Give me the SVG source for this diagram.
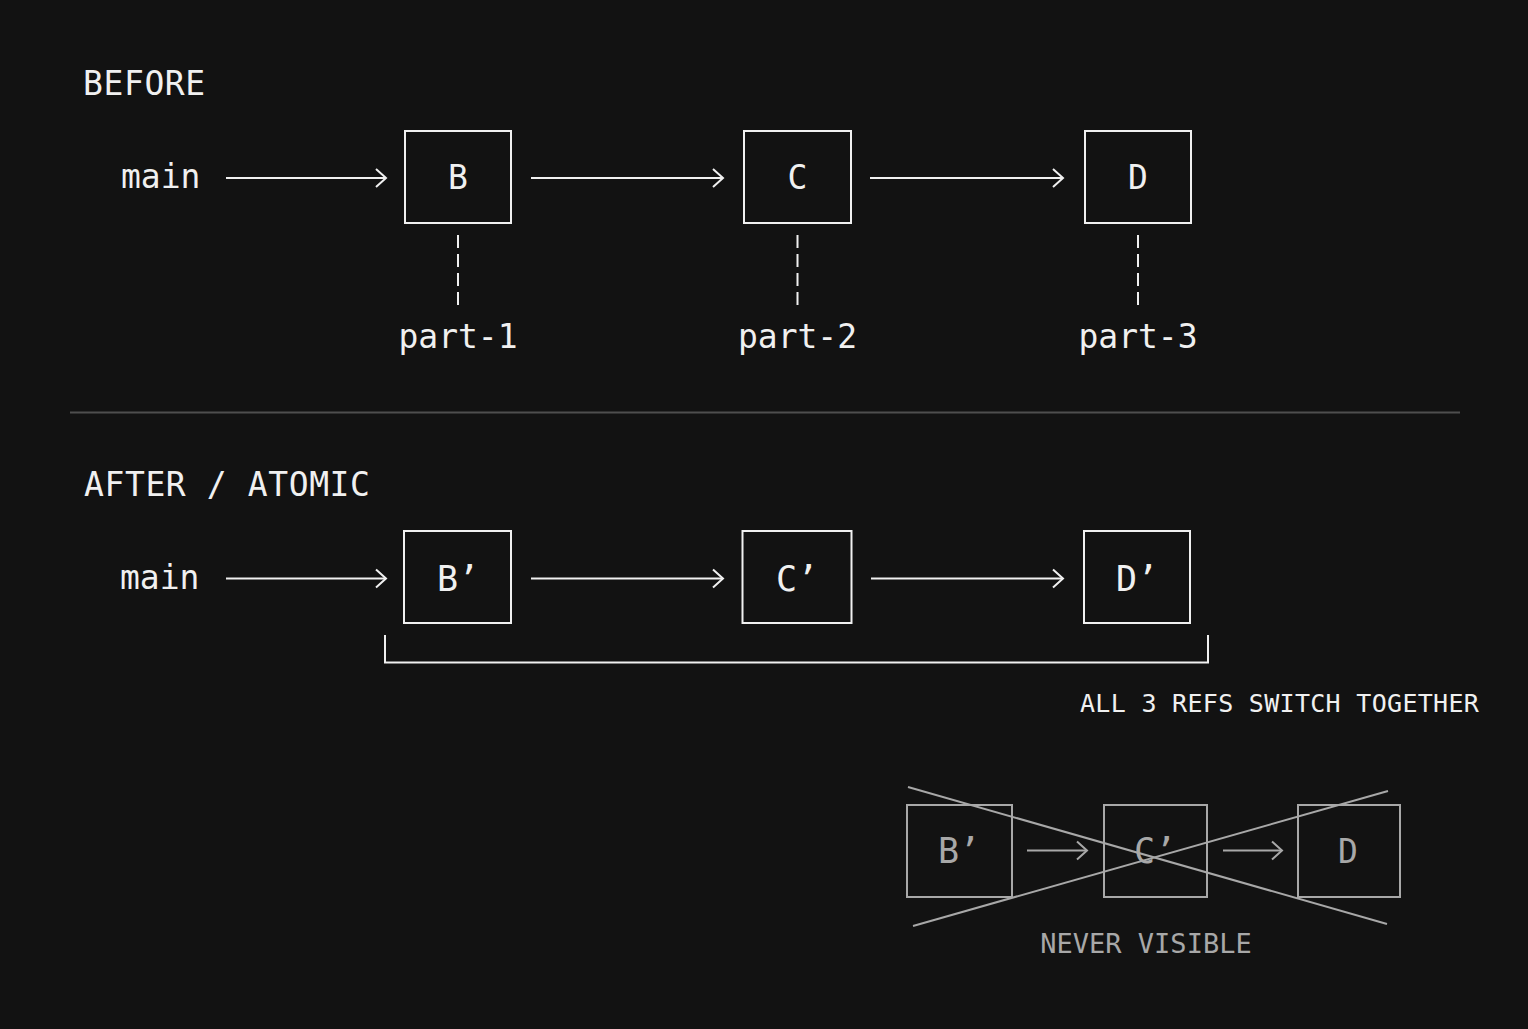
<svg xmlns="http://www.w3.org/2000/svg" width="1528" height="1029" viewBox="0 0 1528 1029">
<style>
text{font-family:"DejaVu Sans Mono","Liberation Mono",monospace;fill:#f0f0f0}
.h{font-size:33px;letter-spacing:0.6px}
.lbl{font-size:33px}
.n{font-size:33px;text-anchor:middle}
.np{font-size:35px;text-anchor:middle}
.box{fill:none;stroke:#f0f0f0;stroke-width:2}
.gbox{fill:none;stroke:#a8a8a8;stroke-width:2}
.gt{fill:#a8a8a8}
.arr{fill:none;stroke:#f0f0f0;stroke-width:2;marker-end:url(#ah)}
.garr{fill:none;stroke:#a8a8a8;stroke-width:2;marker-end:url(#gah)}
.dash{fill:none;stroke:#f0f0f0;stroke-width:2;stroke-dasharray:13 6}
</style>
<defs>
<marker id="ah" markerUnits="userSpaceOnUse" markerWidth="24" markerHeight="24" refX="12" refY="12" orient="auto" viewBox="0 0 24 24">
<path d="M2 3 L12 12 L2 21" fill="none" stroke="#f0f0f0" stroke-width="2"/>
</marker>
<marker id="gah" markerUnits="userSpaceOnUse" markerWidth="24" markerHeight="24" refX="12" refY="12" orient="auto" viewBox="0 0 24 24">
<path d="M2 3 L12 12 L2 21" fill="none" stroke="#a8a8a8" stroke-width="2"/>
</marker>
</defs>
<rect width="1528" height="1029" fill="#121212"/>

<g id="before-title"><text class="h" x="83" y="95">BEFORE</text></g>
<g id="main1"><text class="lbl" x="121" y="188">main</text></g>
<g id="nodeB"><rect class="box" x="405" y="131" width="106" height="92"/><text class="n" x="458" y="189">B</text></g>
<g id="nodeC"><rect class="box" x="744" y="131" width="107" height="92"/><text class="n" x="797.5" y="189">C</text></g>
<g id="nodeD"><rect class="box" x="1085" y="131" width="106" height="92"/><text class="n" x="1138" y="189">D</text></g>
<g id="part1"><text class="n" x="458" y="348">part-1</text></g>
<g id="part2"><text class="n" x="797.5" y="348">part-2</text></g>
<g id="part3"><text class="n" x="1138" y="348">part-3</text></g>

<g id="separator"><line x1="70" y1="412.5" x2="1460" y2="412.5" stroke="#4e4e4e" stroke-width="2"/></g>

<g id="after-title"><text class="h" x="84" y="496">AFTER / ATOMIC</text></g>
<g id="main2"><text class="lbl" x="120" y="589">main</text></g>
<g id="nodeB2"><rect class="box" x="404" y="531" width="107" height="92"/><text class="np" x="458" y="591">B’</text></g>
<g id="nodeC2"><rect class="box" x="742.5" y="531" width="109" height="92"/><text class="np" x="797" y="591">C’</text></g>
<g id="nodeD2"><rect class="box" x="1084" y="531" width="106" height="92"/><text class="np" x="1137" y="591">D’</text></g>
<g id="together-label"><text x="1080" y="712" style="font-size:25px;letter-spacing:0.3px">ALL 3 REFS SWITCH TOGETHER</text></g>

<g id="invalidB"><rect class="gbox" x="907" y="805" width="105" height="92"/><text class="np gt" x="959" y="863">B’</text></g>
<g id="invalidC"><rect class="gbox" x="1104" y="805" width="103" height="92"/><text class="np gt" x="1155" y="863">C’</text></g>
<g id="invalidD"><rect class="gbox" x="1298" y="805" width="102" height="92"/><text class="n gt" x="1348" y="863">D</text></g>
<g id="never-label"><text class="gt" x="1146" y="953" style="font-size:27px;text-anchor:middle">NEVER VISIBLE</text></g>

<g id="connectors">
<path class="arr" d="M226 178 H386"/>
<path class="arr" d="M531 178 H723"/>
<path class="arr" d="M870 178 H1063"/>
<path class="dash" d="M458 235 V307"/>
<path class="dash" d="M797.5 235 V307"/>
<path class="dash" d="M1138 235 V307"/>
<path class="arr" d="M226 578.5 H386"/>
<path class="arr" d="M531 578.5 H723"/>
<path class="arr" d="M871 578.5 H1063"/>
<path d="M385 635 V662.5 H1208 V635" fill="none" stroke="#f0f0f0" stroke-width="2"/>
<path class="garr" d="M1027 850.5 H1087"/>
<path class="garr" d="M1223 850.5 H1282"/>
<line x1="908" y1="787" x2="1387" y2="924" stroke="#a8a8a8" stroke-width="2"/>
<line x1="913" y1="926" x2="1388" y2="791" stroke="#a8a8a8" stroke-width="2"/>
</g>
</svg>
